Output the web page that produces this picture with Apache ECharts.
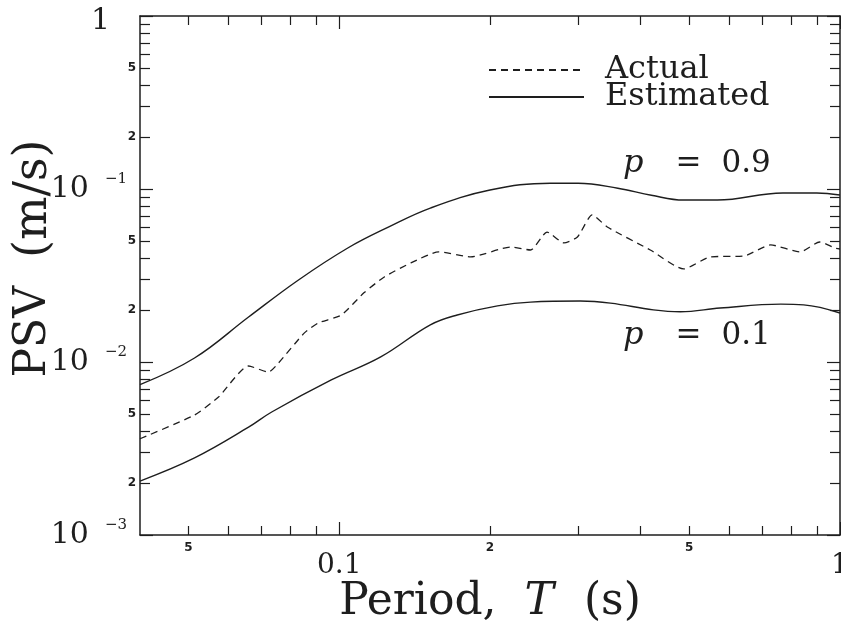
<!DOCTYPE html>
<html>
<head>
<meta charset="utf-8">
<script src="https://cdn.jsdelivr.net/npm/echarts@6/dist/echarts.min.js"></script>
<style>
html, body { margin: 0; padding: 0; background: #fff; }
#chart { width: 841px; height: 627px; }
</style>
</head>
<body>
<div id="chart"></div>
<script>
// period T (s) and PSV (m/s)
var upperT = [0.04, 0.0514, 0.0659, 0.0829, 0.104, 0.125, 0.152, 0.2, 0.264, 0.3, 0.36, 0.42, 0.487, 0.569, 0.769, 0.899, 1.0];
var upperV = [0.0074, 0.01055, 0.0182, 0.0298, 0.0456, 0.06, 0.0776, 0.0986, 0.108, 0.108, 0.101, 0.092, 0.0863, 0.0863, 0.0948, 0.0948, 0.0923];

var lowerT = [0.04, 0.0514, 0.0659, 0.0733, 0.0964, 0.121, 0.152, 0.172, 0.207, 0.241, 0.303, 0.348, 0.424, 0.48, 0.576, 0.762, 0.846, 1.0];
var lowerV = [0.00205, 0.00279, 0.0042, 0.00514, 0.00787, 0.0107, 0.0164, 0.0187, 0.0211, 0.0222, 0.0225, 0.0219, 0.02, 0.0195, 0.0205, 0.0216, 0.0214, 0.0192];

var actualT = [0.04, 0.0514, 0.0574, 0.0659, 0.0722, 0.0756, 0.0852, 0.0908, 0.101, 0.112, 0.123, 0.139, 0.158, 0.183, 0.22, 0.241, 0.26, 0.281, 0.299, 0.32, 0.343, 0.418, 0.487, 0.551, 0.643, 0.727, 0.833, 0.911, 0.977, 1.0];
var actualV = [0.0036, 0.00494, 0.00628, 0.00948, 0.00875, 0.00986, 0.01473, 0.0168, 0.0187, 0.0251, 0.031, 0.0374, 0.0433, 0.0405, 0.0462, 0.0444, 0.0564, 0.0488, 0.0528, 0.0708, 0.0603, 0.0444, 0.0345, 0.0405, 0.041, 0.0475, 0.0433, 0.0494, 0.0456, 0.045];

// ticks
var xMinorTicks = [0.05, 0.06, 0.07, 0.08, 0.09, 0.2, 0.3, 0.4, 0.5, 0.6, 0.7, 0.8, 0.9];
var xMajorTicks = [0.1, 1];
var xTickLabels = [0.05, 0.1, 0.2, 0.5, 1];
var yMinorTicks = [0.002, 0.003, 0.004, 0.005, 0.006, 0.007, 0.008, 0.009,
	0.02, 0.03, 0.04, 0.05, 0.06, 0.07, 0.08, 0.09,
	0.2, 0.3, 0.4, 0.5, 0.6, 0.7, 0.8, 0.9];
var yMajorTicks = [0.001, 0.01, 0.1, 1];
var yTickLabels = [1, 0.5, 0.2, 0.1, 0.05, 0.02, 0.01, 0.005, 0.002, 0.001];

var xMin = 0.04, xMax = 1, yMin = 0.001, yMax = 1;

var ink = '#1e1e1e';
var serif = 'DejaVu Serif';

function lg(v) { return Math.log10(v); }
function pairs(ts, vs) {
	return ts.map(function(t, i) { return [lg(t), lg(vs[i])]; });
}
function isDecade(v) { return Math.abs(v - Math.round(v)) < 1e-6; }
function mantissa(v) {
	var e = Math.floor(v + 1e-9);
	return Math.round(Math.pow(10, v - e));
}

function xLabel(v) {
	if (isDecade(v)) {
		return '{big|' + (Math.round(v) === 0 ? '1' : String(Math.pow(10, Math.round(v)))) + '}';
	}
	return '{small|' + mantissa(v) + '}';
}
function yLabel(v) {
	if (isDecade(v)) {
		var n = Math.round(v);
		if (n === 0) return '{one|1}';
		return '{ten|10}{exp|\u2212' + (-n) + '}';
	}
	return '{small|' + mantissa(v) + '}';
}

function axisBase(min, max, pos) {
	return {
		type: 'value',
		position: pos,
		min: lg(min),
		max: lg(max),
		splitLine: { show: false },
		axisLine: { show: true, onZero: false, lineStyle: { color: ink, width: 1.5 } },
		axisLabel: { show: false },
		axisTick: { show: false }
	};
}
function tickAxis(min, max, pos, ticks, len, showLine) {
	var a = axisBase(min, max, pos);
	a.axisLine.show = showLine;
	a.axisTick = {
		show: true, inside: true, length: len,
		customValues: ticks.map(lg),
		lineStyle: { color: ink, width: 1.2 }
	};
	return a;
}

var xMain = tickAxis(xMin, xMax, 'bottom', xMinorTicks, 9, true);
xMain.axisLabel = {
	show: true,
	customValues: xTickLabels.map(lg),
	formatter: xLabel,
	margin: 7,
	color: ink,
	rich: {
		small: { fontFamily: 'DejaVu Sans', fontWeight: 'bold', fontSize: 12, color: ink },
		big: { fontFamily: serif, fontSize: 28, color: ink, padding: [10, 0, 0, 0] }
	}
};
xMain.name = '{a|Period,}{b|T}{c|(s)}';
xMain.nameLocation = 'middle';
xMain.nameGap = 46;
xMain.nameMoveOverlap = false;
xMain.nameTextStyle = {
	color: ink,
	rich: {
		a: { fontFamily: serif, fontSize: 44, color: ink },
		b: { fontFamily: serif, fontSize: 44, fontStyle: 'italic', color: ink, padding: [0, 30, 0, 28] },
		c: { fontFamily: serif, fontSize: 44, color: ink }
	}
};

var yMain = tickAxis(yMin, yMax, 'left', yMinorTicks, 10, true);
yMain.axisLabel = {
	show: true,
	customValues: yTickLabels.map(lg),
	formatter: yLabel,
	margin: 4,
	color: ink,
	rich: {
		small: { fontFamily: 'DejaVu Sans', fontWeight: 'bold', fontSize: 12, color: ink },
		one: { fontFamily: serif, fontSize: 30, color: ink, padding: [10, 26, 0, 0] },
		ten: { fontFamily: serif, fontSize: 30, lineHeight: 34, color: ink },
		exp: { fontFamily: serif, fontSize: 15, lineHeight: 18, verticalAlign: 'top', color: ink, padding: [0, 9, 0, 16] }
	}
};
yMain.name = '{a|PSV}{b|(m/s)}';
yMain.nameLocation = 'middle';
yMain.nameRotate = 90;
yMain.nameGap = 83;
yMain.nameMoveOverlap = false;
yMain.nameTextStyle = {
	color: ink,
	padding: [0, 0, 0, 34],
	rich: {
		a: { fontFamily: serif, fontSize: 44, color: ink },
		b: { fontFamily: serif, fontSize: 46, color: ink, padding: [0, 0, 0, 28] }
	}
};

var pLabelRich = {
	i: { fontFamily: serif, fontStyle: 'italic', fontSize: 32, fill: ink },
	e: { fontFamily: serif, fontSize: 31, fill: ink, padding: [0, 20, 0, 32] },
	n: { fontFamily: serif, fontSize: 31, fill: ink }
};

var chart = echarts.init(document.getElementById('chart'));
chart.setOption({
	animation: false,
	backgroundColor: '#fff',
	textStyle: { fontFamily: serif },
	grid: { left: 140, right: 1, top: 16, bottom: 92, outerBoundsMode: 'none', containLabel: false },
	legend: {
		orient: 'vertical',
		left: 488,
		top: 54,
		padding: 0,
		itemWidth: 95,
		itemHeight: 14,
		itemGap: -5,
		selectedMode: false,
		itemStyle: { opacity: 0, color: 'rgba(0,0,0,0)', borderWidth: 0 },
		data: ['Actual', 'Estimated'],
		textStyle: { fontFamily: serif, fontSize: 32, color: ink, padding: [0, 0, 0, 16] }
	},
	xAxis: [
		xMain,
		tickAxis(xMin, xMax, 'bottom', xMajorTicks, 13, false),
		tickAxis(xMin, xMax, 'top', xMinorTicks, 9, true),
		tickAxis(xMin, xMax, 'top', xMajorTicks, 13, false)
	],
	yAxis: [
		yMain,
		tickAxis(yMin, yMax, 'left', yMajorTicks, 13, false),
		tickAxis(yMin, yMax, 'right', yMinorTicks, 10, true),
		tickAxis(yMin, yMax, 'right', yMajorTicks, 13, false)
	],
	graphic: [
		{ type: 'text', left: 623, top: 148, style: { text: '{i|p}{e|=}{n|0.9}', rich: pLabelRich } },
		{ type: 'text', left: 623, top: 320, style: { text: '{i|p}{e|=}{n|0.1}', rich: pLabelRich } }
	],
	series: [
		{
			name: 'Actual',
			type: 'line',
			symbol: 'none',
			smooth: 0.2,
			lineStyle: { color: ink, width: 1.3, type: [7, 5] },
			itemStyle: { color: ink },
			data: pairs(actualT, actualV)
		},
		{
			name: 'Estimated',
			type: 'line',
			symbol: 'none',
			smooth: 0.4,
			lineStyle: { color: ink, width: 1.4 },
			itemStyle: { color: ink },
			data: pairs(upperT, upperV)
		},
		{
			name: 'Estimated',
			type: 'line',
			symbol: 'none',
			smooth: 0.4,
			lineStyle: { color: ink, width: 1.4 },
			itemStyle: { color: ink },
			data: pairs(lowerT, lowerV)
		}
	]
});
</script>
</body>
</html>
